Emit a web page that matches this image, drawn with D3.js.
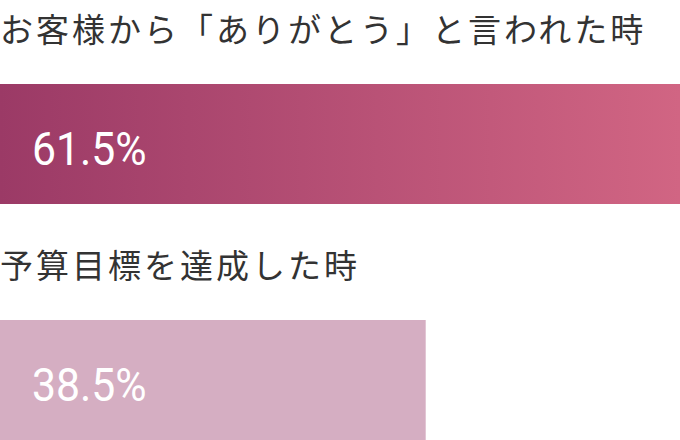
<!DOCTYPE html>
<html>
<head>
<meta charset="utf-8">
<script src="https://cdn.jsdelivr.net/npm/d3@7"></script>
<style>
	body{margin:0;background:#fff;}
	svg{display:block;}
</style>
</head>
<body>
<div id="chart"></div>
<script>
//data
const categories = ['お客様から「ありがとう」と言われた時','予算目標を達成した時'];
const values = [61.5, 38.5];
const labels = ['61.5%','38.5%'];

const width = 680;
const height = 440;

const svg = d3.select('#chart').append('svg')
	.attr('width',width)
	.attr('height',height);

//gradient for the top bar
const grad = svg.append('defs').append('linearGradient')
	.attr('id','barGrad')
	.attr('x1','0%').attr('x2','100%')
	.attr('y1','0%').attr('y2','0%');
grad.append('stop').attr('offset','0%').attr('stop-color','#9b3a66');
grad.append('stop').attr('offset','100%').attr('stop-color','#d16583');

//scales
const scaleX = d3.scaleLinear().domain([0, d3.max(values)]).range([0,width]);
const scaleY = d3.scaleBand().domain(categories).range([0,472]);

const rows = svg.selectAll('.row')
	.data(categories.map((c,i) => ({cat:c, value:values[i], label:labels[i], i:i})))
	.enter().append('g')
	.attr('class','row')
	.attr('transform', d => `translate(0,${scaleY(d.cat)})`);

//title
rows.append('text')
	.attr('x',0)
	.attr('y',42)
	.style('font-family','"Noto Sans CJK JP", sans-serif')
	.style('font-size','33px')
	.style('letter-spacing','3px')
	.style('fill','#333')
	.text(d => d.cat);

//bars
rows.append('rect')
	.attr('x',0)
	.attr('y',84)
	.attr('width', d => scaleX(d.value))
	.attr('height',120)
	.style('fill', d => d.i === 0 ? 'url(#barGrad)' : '#d5aec2');

//value label (condensed look)
rows.append('text')
	.attr('transform','translate(32,165) scale(0.91,1)')
	.style('font-family','Roboto, sans-serif')
	.style('font-size','47px')
	.style('fill','#fff')
	.text(d => d.label);
</script>
</body>
</html>
